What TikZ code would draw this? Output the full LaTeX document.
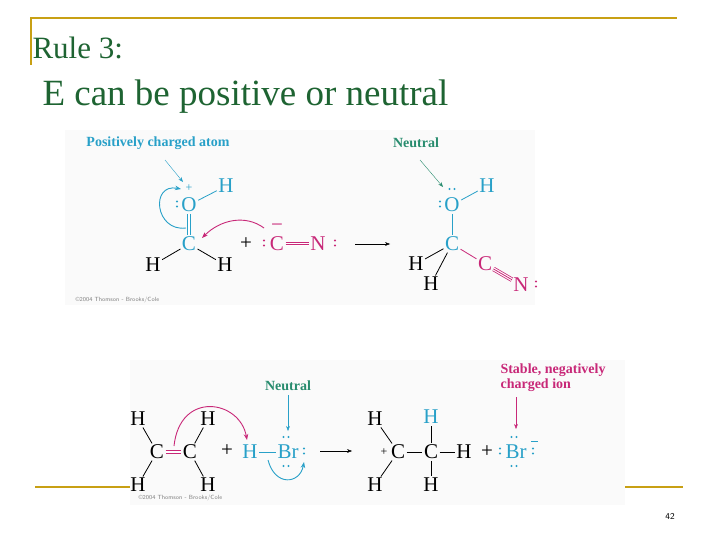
\documentclass[tikz,border=0pt]{standalone}
\usepackage{fontspec}
\setmainfont{Liberation Serif}
\usetikzlibrary{arrows.meta}
\definecolor{gold}{RGB}{200,160,20}
\definecolor{titlegreen}{RGB}{30,100,50}
\definecolor{cyanatom}{RGB}{40,160,200}
\definecolor{magatom}{RGB}{200,40,120}
\definecolor{labgreen}{RGB}{40,140,110}
\tikzset{
	atom/.style={inner sep=0.5pt,font=\fontsize{21}{21}\selectfont},
	lab/.style={font=\fontsize{14}{15}\selectfont\bfseries,align=left},
	bond/.style={line width=0.8pt,shorten <=1pt,shorten >=1pt},
	copy/.style={font=\fontsize{6}{6}\selectfont\sffamily,text=gray,anchor=west},
	push/.style={line width=0.9pt,-{Stealth[length=6pt]}}
}
\newcommand{\hpair}[3]{\fill[#1] (#2-2.5,#3) circle (1.2pt) (#2+2.5,#3) circle (1.2pt);}
\newcommand{\vpair}[3]{\fill[#1] (#2,#3-2.5) circle (1.2pt) (#2,#3+2.5) circle (1.2pt);}
\begin{document}
\begin{tikzpicture}[x=1pt,y=-1pt]
	\useasboundingbox (0,0) rectangle (720,540);
	\fill[white] (0,0) rectangle (720,540);
	% frame
	\draw[gold,line width=2pt] (30,18) -- (677,18);
	\draw[gold,line width=2pt] (31,18) -- (31,65);
	\draw[gold,line width=2pt] (35,487) -- (135,487);
	\draw[gold,line width=2pt] (618,487) -- (683,487);
	\node[anchor=west,text=titlegreen,font=\fontsize{31}{32}\selectfont] (rule) at (29,48) {Rule 3:};
	\node[anchor=west,text=titlegreen,font=\fontsize{37}{38}\selectfont] (subt) at (39,97) {E can be positive or neutral};
	\node[font=\fontsize{9}{9}\sffamily] (page) at (670,516) {42};
	% first panel
	\fill[gray!4] (65,130) rectangle (535,305);
	\node[lab,text=cyanatom] (poslab) at (158,143) {Positively charged atom};
	\node[lab,text=labgreen] (neulab) at (416,143) {Neutral};
	\node[atom,text=cyanatom] (o1) at (189,205) {O};
	\node[atom,text=cyanatom,font=\fontsize{12}{12}\selectfont] at (189,188) {+};
	\node[atom,text=cyanatom] (h1) at (226,186) {H};
	\node[atom,text=cyanatom] (c1) at (189,244) {C};
	\node[atom] (h2) at (153,265) {H};
	\node[atom] (h3) at (225,265) {H};
	\node[atom] (plus1) at (246,244) {+};
	\node[atom,text=magatom] (cn) at (277,244) {C};
	\node[atom,text=magatom] at (277,228) {\textminus};
	\node[atom,text=magatom] (n1) at (318,244) {N};
	\vpair{cyanatom}{177}{204}
	\vpair{magatom}{264}{243}
	\vpair{magatom}{335}{243}
	\draw[bond,cyanatom,double,double distance=2.5pt] (o1) -- (c1);
	\draw[bond,cyanatom] (o1) -- (h1);
	\draw[bond] (c1) -- (h2);
	\draw[bond] (c1) -- (h3);
	\draw[bond,magatom,double,double distance=3pt] (cn) -- (n1);
	\draw[bond,magatom] (cn) -- (n1);
	\draw[push,cyanatom] (186,228) .. controls (155,232) and (150,183) .. (181,189);
	\draw[push,magatom] (264,228) .. controls (245,214) and (220,220) .. (202,238);
	\draw[-{Stealth[length=5pt]},cyanatom] (165,160) -- (183,182);
	\draw[-{Stealth[length=5pt]}] (355,244) -- (390,244);
	\node[atom,text=cyanatom] (o2) at (452,205) {O};
	\hpair{cyanatom}{452}{189}
	\vpair{cyanatom}{440}{204}
	\node[atom,text=cyanatom] (h4) at (487,186) {H};
	\node[atom,text=cyanatom] (c2) at (452,244) {C};
	\node[atom] (h5) at (416,264) {H};
	\node[atom] (h6) at (431,284) {H};
	\node[atom,text=magatom] (c3) at (485,264) {C};
	\node[atom,text=magatom] (n2) at (521,285) {N};
	\vpair{magatom}{536}{284}
	\draw[bond,cyanatom] (o2) -- (h4);
	\draw[bond,cyanatom] (o2) -- (c2);
	\draw[bond] (c2) -- (h5);
	\draw[bond] (c2) -- (h6);
	\draw[bond,magatom] (c2) -- (c3);
	\draw[bond,magatom,double,double distance=3pt] (c3) -- (n2);
	\draw[bond,magatom] (c3) -- (n2);
	\draw[-{Stealth[length=5pt]},labgreen] (420,160) -- (443,187);
	\node[copy] (copy1) at (72,300) {\textcopyright2004 Thomson - Brooks/Cole};
	% second panel
	\fill[gray!4] (130,360) rectangle (625,505);
	\node[lab,text=labgreen] (neulab2) at (288,386) {Neutral};
	\node[lab,text=magatom,anchor=north west] (stablab) at (497,360) {Stable, negatively\\charged ion};
	\node[atom] (ha) at (138,419) {H};
	\node[atom] (hb) at (208,419) {H};
	\node[atom] (ca) at (157,452) {C};
	\node[atom] (cb) at (190,452) {C};
	\node[atom] (hc) at (138,485) {H};
	\node[atom] (hd) at (208,485) {H};
	\draw[bond] (ca) -- (ha);
	\draw[bond] (ca) -- (hc);
	\draw[bond] (cb) -- (hb);
	\draw[bond] (cb) -- (hd);
	\draw[bond,magatom,double,double distance=2.5pt] (ca) -- (cb);
	\node[atom] (plus2) at (227,451) {+};
	\node[atom,text=cyanatom] (hbr) at (250,452) {H};
	\node[atom,text=cyanatom] (br1) at (288,452) {Br};
	\hpair{cyanatom}{286}{437}
	\hpair{cyanatom}{286}{466}
	\vpair{cyanatom}{304}{451}
	\draw[bond,cyanatom] (hbr) -- (br1);
	\draw[push,magatom] (174,446) .. controls (180,390) and (240,400) .. (247,440);
	\draw[push,cyanatom] (268,460) .. controls (275,487) and (300,484) .. (304,462);
	\draw[-{Stealth[length=5pt]},cyanatom] (288,395) -- (288,431);
	\draw[-{Stealth[length=5pt]}] (320,451) -- (352,451);
	\node[atom] (he) at (375,419) {H};
	\node[atom] (cc) at (398,452) {C};
	\node[atom,font=\fontsize{12}{12}\selectfont] at (384,452) {+};
	\node[atom] (cd) at (431,452) {C};
	\node[atom,text=cyanatom] (hf) at (431,417) {H};
	\node[atom] (hg) at (464,452) {H};
	\node[atom] (hh) at (431,485) {H};
	\node[atom] (hi) at (375,485) {H};
	\draw[bond] (cc) -- (he);
	\draw[bond] (cc) -- (hi);
	\draw[bond] (cc) -- (cd);
	\draw[bond] (cd) -- (hf);
	\draw[bond] (cd) -- (hg);
	\draw[bond] (cd) -- (hh);
	\node[atom] (plus3) at (487,452) {+};
	\node[atom,text=cyanatom] (br2) at (516,452) {Br};
	\hpair{cyanatom}{514}{437}
	\hpair{cyanatom}{514}{466}
	\vpair{cyanatom}{500}{451}
	\vpair{cyanatom}{533}{451}
	\draw[cyanatom,line width=0.8pt] (531,441) -- (538,441);
	\draw[-{Stealth[length=5pt]},magatom] (516,397) -- (516,429);
	\node[copy] (copy2) at (135,498) {\textcopyright2004 Thomson - Brooks/Cole};
\end{tikzpicture}
\end{document}
